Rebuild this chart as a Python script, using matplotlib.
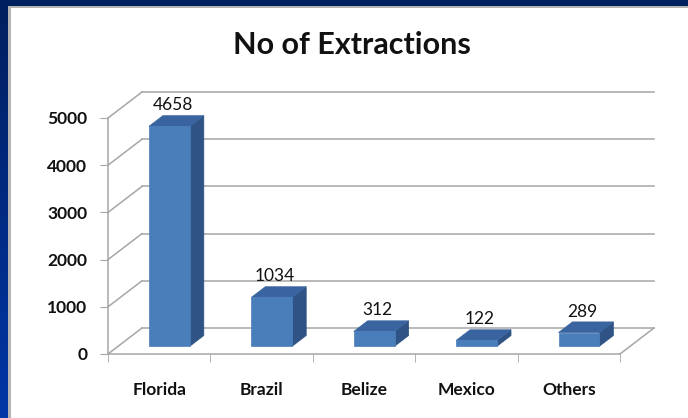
import matplotlib
matplotlib.use("Agg")
import matplotlib.pyplot as plt
from matplotlib.patches import Rectangle, Polygon
from matplotlib.colors import LinearSegmentedColormap
import numpy as np

plt.rcParams['font.family'] = ['Lato', 'DejaVu Sans']

# ---- data ----
title = "No of Extractions"
categories = ["Florida", "Brazil", "Belize", "Mexico", "Others"]
values = [4658, 1034, 312, 122, 289]
yticks = [0, 1000, 2000, 3000, 4000, 5000]

W, H = 688, 418
fig = plt.figure(figsize=(W / 100, H / 100), dpi=100)
fig.patch.set_facecolor("#00205c")

# ---- background frame (pixel coordinates) ----
bg = fig.add_axes([0, 0, 1, 1])
bg.set_xlim(0, W)
bg.set_ylim(H, 0)
bg.axis("off")
grad = np.linspace(0, 1, 256).reshape(-1, 1)
cmap = LinearSegmentedColormap.from_list("b", ["#001f5e", "#0036a6"])
bg.imshow(grad, cmap=cmap, extent=[0, 9, H, 0], aspect="auto", zorder=0)
bg.add_patch(Rectangle((0, 0), W, 6, color="#001f5e", zorder=1))
bg.add_patch(Rectangle((8, 6), W, H, facecolor="#b4b4b4", edgecolor="none", zorder=2))
bg.add_patch(Rectangle((10.5, 8), W, H, facecolor="white", edgecolor="none", zorder=3))

fig.text(352 / W, 1 - 45 / H, title, ha="center", va="center",
         fontsize=22, fontweight="bold", color="#111111")

# ---- main axes ----
x0px, x1px = 108, 620
y0px, y1px = 354, 118
ax = fig.add_axes([x0px / W, (H - y0px) / H, (x1px - x0px) / W, (y0px - y1px) / H])
ax.set_xlim(0, len(categories))
ax.set_ylim(0, 5000)
ax.patch.set_alpha(0)

n = len(categories)
DX = 34 / ((x1px - x0px) / n)            # depth offset in category units
DY = 26 / (y0px - y1px) * 5000           # depth offset in value units
grid_c = "#a6a6a6"
lw = 1.1

for t in yticks:
    ax.plot([DX, n + DX], [t + DY, t + DY], color=grid_c, lw=lw, clip_on=False, zorder=1)
    ax.plot([0, DX], [t, t + DY], color=grid_c, lw=lw, clip_on=False, zorder=1)
ax.plot([n, n + DX], [0, DY], color=grid_c, lw=lw, clip_on=False, zorder=1)

# bars
f0, dd = 0.30, 0.41
bw = 0.40
front_c, side_c, top_c = "#4a7ebb", "#2f5385", "#3a64a0"
for i, v in enumerate(values):
    cx = i + 0.5 + f0 * DX
    bx0, bx1 = cx - bw / 2, cx + bw / 2
    by0 = f0 * DY
    by1 = by0 + v
    ox, oy = dd * DX, dd * DY
    ax.add_patch(Polygon([(bx1, by0), (bx1 + ox, by0 + oy), (bx1 + ox, by1 + oy), (bx1, by1)],
                         closed=True, facecolor=side_c, edgecolor=side_c, lw=0.5,
                         clip_on=False, zorder=3))
    ax.add_patch(Polygon([(bx0, by1), (bx1, by1), (bx1 + ox, by1 + oy), (bx0 + ox, by1 + oy)],
                         closed=True, facecolor=top_c, edgecolor=top_c, lw=0.5,
                         clip_on=False, zorder=3))
    ax.add_patch(Rectangle((bx0, by0), bw, v, facecolor=front_c, edgecolor=front_c,
                           lw=0.5, clip_on=False, zorder=4))
    ax.annotate(str(v), xy=(cx + 0.03, by1), xytext=(0, 21), textcoords="offset pixels",
                ha="center", va="center", fontsize=12.5, color="#111111",
                annotation_clip=False, zorder=5)

# axes styling
for s in ["top", "right"]:
    ax.spines[s].set_visible(False)
for s in ["left", "bottom"]:
    ax.spines[s].set_color(grid_c)
    ax.spines[s].set_linewidth(lw)
ax.set_yticks(yticks)
ax.set_yticklabels([str(t) for t in yticks], fontsize=12.5, fontweight="bold", color="#111111")
ax.tick_params(axis="y", length=6, color=grid_c, pad=9)
ax.set_xticks(np.arange(n) + 0.5)
ax.set_xticklabels(categories, fontsize=12.5, fontweight="bold", color="#111111")
ax.tick_params(axis="x", which="major", length=0, pad=20)
ax.set_xticks(np.arange(n + 1), minor=True)
ax.tick_params(axis="x", which="minor", length=6, color=grid_c)

fig.savefig("out.png", dpi=100, facecolor=fig.get_facecolor())
